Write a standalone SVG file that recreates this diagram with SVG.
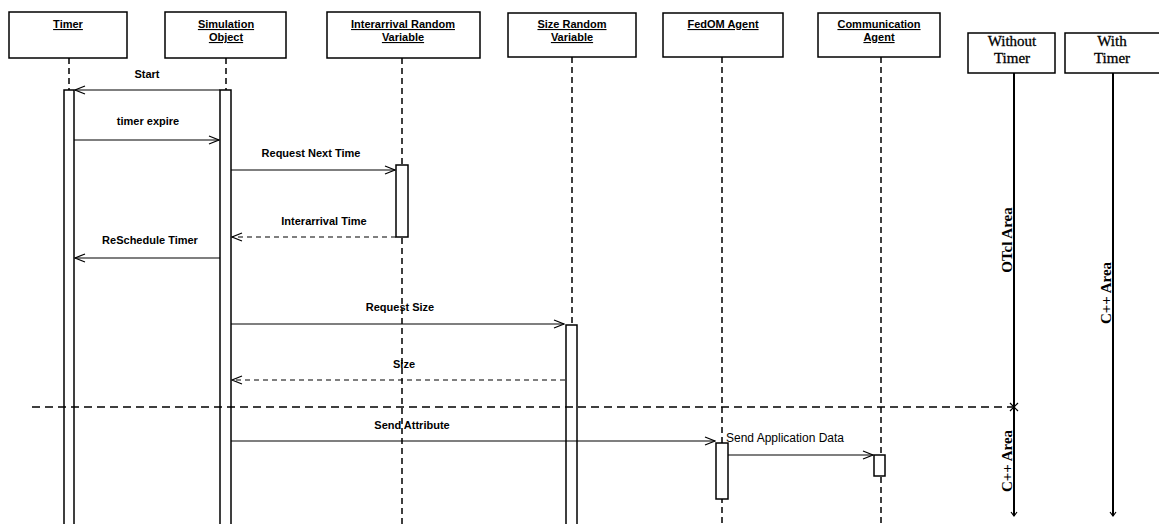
<svg xmlns="http://www.w3.org/2000/svg" width="1159" height="524" viewBox="0 0 1159 524">
<style>
.box{fill:#fff;stroke:#000;stroke-width:1.5}
.hd{font-family:"Liberation Sans",Arial,sans-serif;font-size:11px;font-weight:bold;text-decoration:underline;text-anchor:middle}
.tm{font-family:"Liberation Serif","Times New Roman",serif;font-size:15px;font-weight:bold;text-anchor:middle}
.tt{font-family:"Liberation Serif","Times New Roman",serif;font-size:15px;text-anchor:middle;stroke:#000;stroke-width:0.3}
.lbl{font-family:"Liberation Sans",Arial,sans-serif;font-size:11px;font-weight:bold;text-anchor:middle}
.life{stroke:#000;stroke-width:1.5;stroke-dasharray:6,4;fill:none}
.bar{fill:#fff;stroke:#000;stroke-width:1.5}
.msg{stroke:#000;stroke-width:1.2;fill:none}
.ret{stroke:#000;stroke-width:1.2;fill:none;stroke-dasharray:5,4}
</style>
<defs>
<marker id="open" markerWidth="12" markerHeight="10" refX="11" refY="5" orient="auto" markerUnits="userSpaceOnUse">
<path d="M1,1 L11,5 L1,9" fill="none" stroke="#000" stroke-width="1.3"/>
</marker>
<marker id="down" markerWidth="8" markerHeight="6" refX="4" refY="5" orient="0" markerUnits="userSpaceOnUse">
<path d="M1,1 L4,5 L7,1" fill="none" stroke="#000" stroke-width="1.2"/>
</marker>
</defs>
<rect width="1159" height="524" fill="#fff"/>

<g id="timer">
<rect class="box" x="9" y="12" width="118" height="46"/>
<text class="hd" x="68" y="28">Timer</text>
<line class="life" x1="69" y1="58" x2="69" y2="90"/>
<rect class="bar" x="64" y="90" width="10" height="440" stroke-width="1"/>
</g>
<g id="simulation-object">
<rect class="box" x="165" y="12" width="121" height="46"/>
<text class="hd" x="226" y="28">Simulation</text>
<text class="hd" x="226" y="41">Object</text>
<line class="life" x1="226" y1="58" x2="226" y2="90"/>
<rect class="bar" x="220" y="90" width="11" height="440" stroke-width="2"/>
</g>
<g id="interarrival">
<rect class="box" x="327" y="12" width="153" height="46"/>
<text class="hd" x="403" y="28">Interarrival Random</text>
<text class="hd" x="403" y="41">Variable</text>
<line class="life" x1="402" y1="58" x2="402" y2="524"/>
<rect class="bar" x="396" y="165" width="12" height="72"/>
</g>
<g id="size-rv">
<rect class="box" x="508" y="13" width="128" height="44"/>
<text class="hd" x="572" y="28">Size Random</text>
<text class="hd" x="572" y="41">Variable</text>
<line class="life" x1="572" y1="57" x2="572" y2="325"/>
<rect class="bar" x="566" y="325" width="11" height="205"/>
</g>
<g id="fedom">
<rect class="box" x="663" y="13" width="120" height="44"/>
<text class="hd" x="723" y="28">FedOM Agent</text>
<line class="life" x1="722" y1="57" x2="722" y2="524"/>
<rect class="bar" x="716" y="443" width="12" height="56"/>
</g>
<g id="communication">
<rect class="box" x="818" y="13" width="122" height="44"/>
<text class="hd" x="879" y="28">Communication</text>
<text class="hd" x="879" y="41">Agent</text>
<line class="life" x1="881" y1="57" x2="881" y2="524"/>
<rect class="bar" x="874" y="455" width="11" height="21"/>
</g>
<g id="without-timer">
<rect class="box" x="968" y="33" width="87" height="40"/>
<text class="tt" x="1012" y="46">Without</text>
<text class="tt" x="1012" y="63">Timer</text>
<line x1="1014" y1="73" x2="1014" y2="516" stroke="#000" stroke-width="2" marker-end="url(#down)"/>
<text class="tm" transform="translate(1012,240) rotate(-90)">OTcl Area</text>
<text class="tm" transform="translate(1012,461) rotate(-90)">C++ Area</text>
</g>
<g id="with-timer">
<rect class="box" x="1065" y="33" width="100" height="40"/>
<text class="tt" x="1112" y="46">With</text>
<text class="tt" x="1112" y="63">Timer</text>
<line x1="1113" y1="73" x2="1113" y2="516" stroke="#000" stroke-width="2" marker-end="url(#down)"/>
<text class="tm" transform="translate(1111,293) rotate(-90)">C++ Area</text>
</g>

<g id="connectors">
<line x1="32" y1="407" x2="1014" y2="407" stroke="#000" stroke-width="1.5" stroke-dasharray="8,5"/>
<path d="M1010,403 L1018,411 M1018,403 L1010,411" stroke="#000" stroke-width="1.2"/>
<line class="msg" x1="220" y1="90" x2="75" y2="90" marker-end="url(#open)" stroke-width="1.6"/>
<text class="lbl" x="147" y="78">Start</text>
<line class="msg" x1="74" y1="140" x2="219" y2="140" marker-end="url(#open)"/>
<text class="lbl" x="148" y="125">timer expire</text>
<line class="msg" x1="231" y1="170" x2="395" y2="170" marker-end="url(#open)"/>
<text class="lbl" x="311" y="157">Request Next Time</text>
<line class="ret" x1="396" y1="237" x2="232" y2="237" marker-end="url(#open)"/>
<text class="lbl" x="324" y="225">Interarrival Time</text>
<line class="msg" x1="220" y1="258" x2="75" y2="258" marker-end="url(#open)"/>
<text class="lbl" x="150" y="244">ReSchedule Timer</text>
<line class="msg" x1="231" y1="324" x2="564" y2="324" marker-end="url(#open)"/>
<text class="lbl" x="400" y="311">Request Size</text>
<line class="ret" x1="565" y1="380" x2="232" y2="380" marker-end="url(#open)"/>
<text class="lbl" x="404" y="368">Size</text>
<line class="msg" x1="231" y1="441" x2="715" y2="441" marker-end="url(#open)"/>
<text class="lbl" x="412" y="429">Send Attribute</text>
<line class="msg" x1="728" y1="455" x2="873" y2="455" marker-end="url(#open)"/>
<text x="785" y="442" font-family="Liberation Sans,Arial,sans-serif" font-size="12" text-anchor="middle">Send Application Data</text>
</g>
</svg>
